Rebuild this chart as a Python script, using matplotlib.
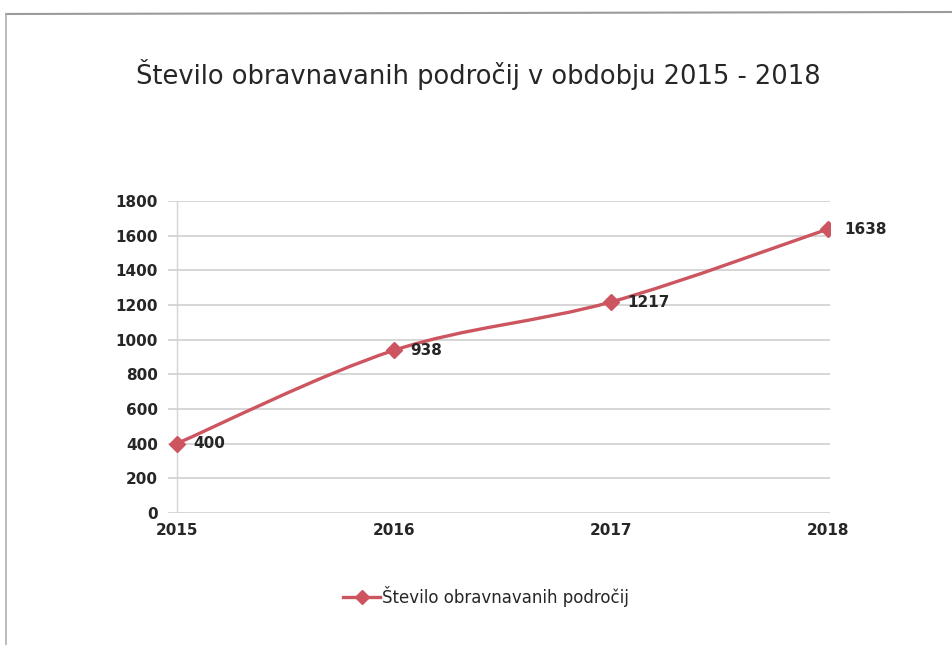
import numpy as np
import matplotlib.pyplot as plt
from matplotlib.path import Path
from matplotlib.patches import PathPatch
from matplotlib.lines import Line2D

years = [2015, 2016, 2017, 2018]
counts = [400, 938, 1217, 1638]
yticks = [0, 200, 400, 600, 800, 1000, 1200, 1400, 1600, 1800]
title = 'Število obravnavanih področij v obdobju 2015 - 2018'
series_name = 'Število obravnavanih področij'

plt.rcParams['font.family'] = ['DejaVu Sans']
line_color = '#CD5560'
text_color = '#262626'

fig = plt.figure(figsize=(9.53, 6.45), dpi=100)
ax = fig.add_axes([0.176, 0.2047, 0.695, 0.4837])

# smooth line like Excel (Catmull-Rom style bezier through the points)
x = np.array(years, dtype=float)
y = np.array(counts, dtype=float)
verts = [(x[0], y[0])]
codes = [Path.MOVETO]
t = 1 / 6
for i in range(len(x) - 1):
    p0 = (x[i - 1], y[i - 1]) if i > 0 else (x[i], y[i])
    p1 = (x[i], y[i])
    p2 = (x[i + 1], y[i + 1])
    p3 = (x[i + 2], y[i + 2]) if i + 2 < len(x) else p2
    c1 = (p1[0] + (p2[0] - p0[0]) * t, p1[1] + (p2[1] - p0[1]) * t)
    c2 = (p2[0] - (p3[0] - p1[0]) * t, p2[1] - (p3[1] - p1[1]) * t)
    verts += [c1, c2, p2]
    codes += [Path.CURVE4] * 3
ax.add_patch(PathPatch(Path(verts, codes), facecolor='none', edgecolor=line_color,
                       lw=2.4, zorder=3))
ax.plot(years, counts, linestyle='none', marker='D', ms=8, color=line_color, zorder=4)

for xv, yv in zip(years, counts):
    ax.annotate(str(yv), (xv, yv), xytext=(12, 0), textcoords='offset points',
                va='center', ha='left', fontsize=11, fontweight='bold', color=text_color)

ax.set_xlim(2015 - 0.041, 2018 + 0.01)
ax.set_ylim(0, 1800)
ax.set_yticks(yticks)
ax.set_xticks(years)
ax.set_xticklabels([str(v) for v in years])
ax.grid(axis='y', color='#D0D0D0', lw=1.2)
ax.set_axisbelow(True)
for s in ax.spines.values():
    s.set_visible(False)
ax.axvline(2015, color='#D5D5D5', lw=1, zorder=1)
ax.tick_params(axis='both', length=0, labelsize=11, colors=text_color, pad=7)
for lbl in ax.get_xticklabels() + ax.get_yticklabels():
    lbl.set_fontweight('bold')

fig.text(0.502, 0.885, title, ha='center', va='center', fontsize=18.5, color=text_color)

handle = Line2D([], [], color=line_color, lw=2.4, marker='D', ms=7)
leg = fig.legend([handle], [series_name], loc='center', bbox_to_anchor=(0.51, 0.075),
                 frameon=False, fontsize=12, handlelength=2.2, handletextpad=0.1)
for txt in leg.get_texts():
    txt.set_color(text_color)

# chart frame (scanned page border)
fig.add_artist(Line2D([6 / 953, 1.0], [1 - 14 / 645, 1 - 12 / 645], color='#9A9A9A', lw=1.5))
fig.add_artist(Line2D([6 / 953, 6 / 953], [1 - 14 / 645, 0.0], color='#B0B0B0', lw=1.2))

fig.savefig('out.png', dpi=100)
